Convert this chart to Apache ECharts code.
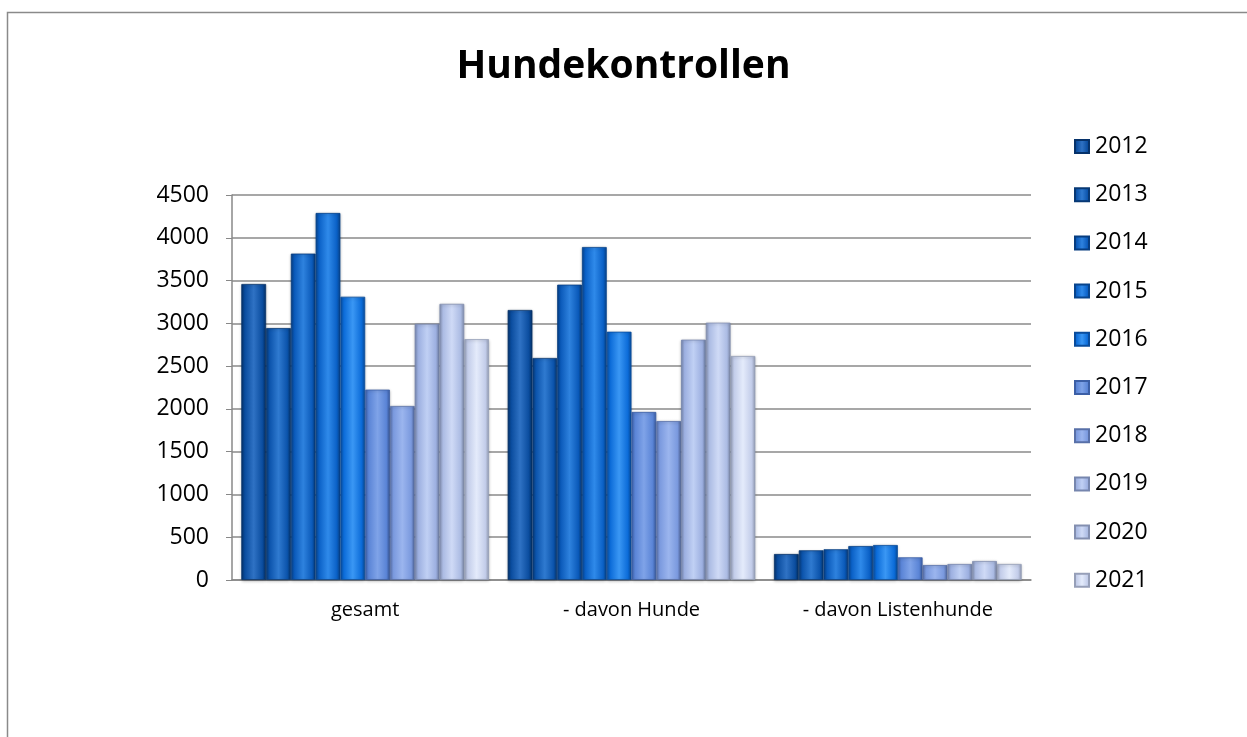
<!DOCTYPE html>
<html>
<head>
<meta charset="utf-8">
<script src="https://cdn.jsdelivr.net/npm/echarts@6/dist/echarts.min.js"></script>
<style>html,body{margin:0;padding:0;background:#fff}#c{width:1247px;height:737px}</style>
</head>
<body>
<div id="c"></div>
<script>
const categories = ['gesamt', '- davon Hunde', '- davon Listenhunde'];
const years = ['2012','2013','2014','2015','2016','2017','2018','2019','2020','2021'];
const v2012 = [3460, 3156, 304];
const v2013 = [2945, 2595, 347];
const v2014 = [3815, 3452, 359];
const v2015 = [4290, 3892, 397];
const v2016 = [3311, 2902, 409];
const v2017 = [2225, 1964, 265];
const v2018 = [2034, 1858, 175];
const v2019 = [2995, 2809, 187];
const v2020 = [3228, 3008, 222];
const v2021 = [2815, 2618, 187];
const yTicks = [0, 500, 1000, 1500, 2000, 2500, 3000, 3500, 4000, 4500];

const seriesValues = [v2012, v2013, v2014, v2015, v2016, v2017, v2018, v2019, v2020, v2021];
const baseColors = ['#0a4c9e','#0b53ab','#0a59b9','#0a60c6','#0b6bd8','#5a84d6','#7a99de','#9cafe0','#abbbe3','#c2cce9'];
const edgeColors = ['#06326a','#073874','#073d80','#08448c','#094c9c','#3c5fa6','#5870a8','#7686ae','#838fb0','#969fb8'];
const topColors  = ['#2f72c4','#2f7ad0','#2e82de','#2f8aea','#3a97f4','#7fa3e8','#9bb5ee','#c0d0f4','#cfdaf6','#e4ebfb'];

function grad(i) {
  return new echarts.graphic.LinearGradient(0, 0, 1, 0, [
    {offset: 0, color: edgeColors[i]},
    {offset: 0.14, color: baseColors[i]},
    {offset: 0.5, color: topColors[i]},
    {offset: 0.86, color: baseColors[i]},
    {offset: 1, color: edgeColors[i]}
  ]);
}

const chart = echarts.init(document.getElementById('c'), null, {renderer: 'canvas'});
const FONT = '"Open Sans", sans-serif';

chart.setOption({
  backgroundColor: '#fff',
  animation: false,
  title: {
    text: 'Hundekontrollen',
    left: 'center',
    top: 42,
    textStyle: {fontFamily: FONT, fontSize: 39, fontWeight: 'bold', color: '#000'}
  },
  graphic: [{
    type: 'rect', silent: true, z: -1,
    shape: {x: 7.5, y: 12.5, width: 1260, height: 760},
    style: {fill: 'none', stroke: '#8a8a8a', lineWidth: 1.5}
  }],
  legend: {
    orient: 'vertical',
    left: 1069,
    top: 130,
    itemWidth: 14,
    itemHeight: 13,
    itemGap: 25.2,
    icon: 'rect',
    textStyle: {fontFamily: FONT, fontSize: 23, color: '#000', padding: [0, 0, 0, 1]},
    data: years
  },
  grid: {left: 232, right: 216, top: 195, bottom: 157, containLabel: false},
  xAxis: {
    type: 'category',
    data: categories,
    axisLine: {lineStyle: {color: '#888', width: 1.5}},
    axisTick: {show: false},
    axisLabel: {fontFamily: FONT, fontSize: 20, color: '#000', margin: 20}
  },
  yAxis: {
    type: 'value',
    min: 0, max: 4500, interval: 500,
    axisLine: {show: true, lineStyle: {color: '#888', width: 1.5}},
    axisTick: {show: true, length: 6, inside: false, lineStyle: {color: '#888'}},
    splitLine: {lineStyle: {color: '#8a8a8a', width: 1.5}},
    axisLabel: {fontFamily: FONT, fontSize: 23, color: '#000', margin: 23,
      formatter: function (v) { return yTicks.indexOf(v) >= 0 ? String(v) : ''; }}
  },
  series: years.map(function (y, i) {
    return {
      name: y,
      type: 'bar',
      data: seriesValues[i],
      barGap: '0%',
      barCategoryGap: '7%',
      itemStyle: {color: grad(i), borderColor: edgeColors[i], borderWidth: 0.8,
        shadowColor: 'rgba(0,0,0,0.25)', shadowBlur: 3, shadowOffsetY: 1}
    };
  })
});
</script>
</body>
</html>
